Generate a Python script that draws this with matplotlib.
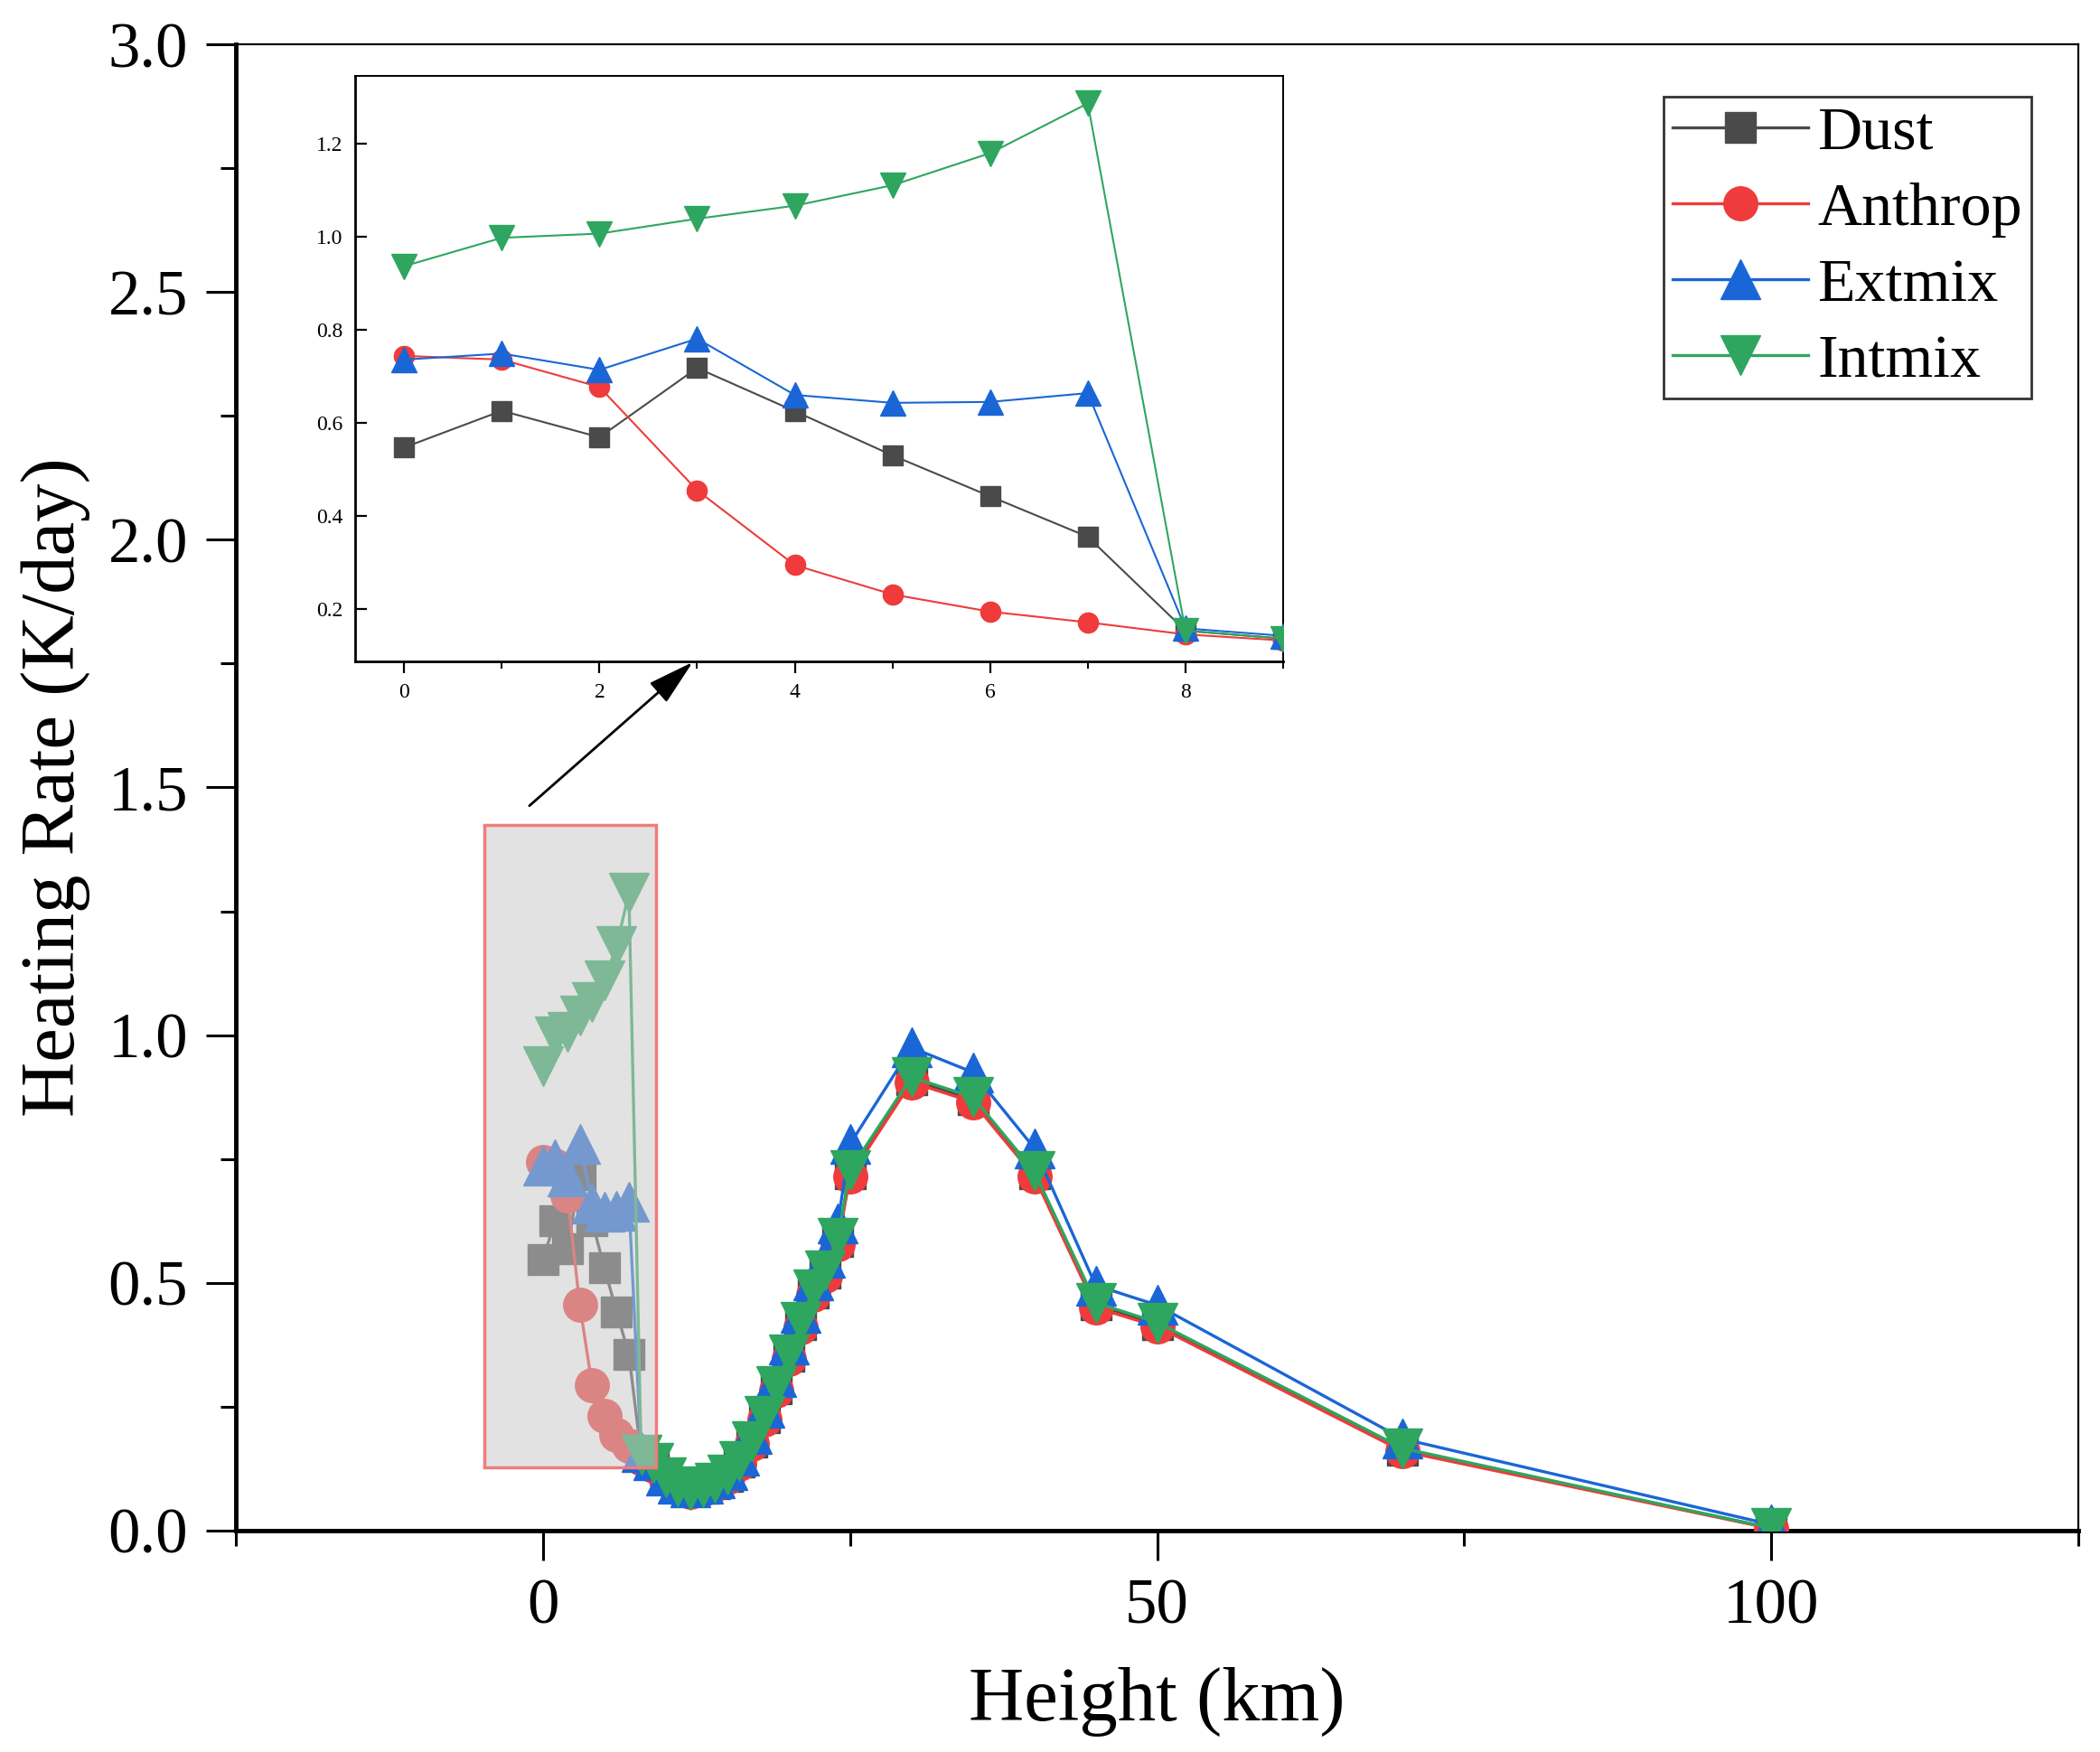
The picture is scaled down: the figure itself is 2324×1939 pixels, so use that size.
import matplotlib
matplotlib.use("Agg")
import matplotlib.pyplot as plt
from matplotlib.patches import Rectangle
from matplotlib.ticker import MultipleLocator

# ---------------- data ----------------
heights = [0, 1, 2, 3, 4, 5, 6, 7, 8, 9, 10, 11, 12, 13, 14, 15, 16, 17, 18,
           19, 20, 21, 22, 23, 24, 25, 30, 35, 40, 45, 50, 70, 100]

dust = [0.547, 0.626, 0.569, 0.718, 0.625, 0.530, 0.442, 0.355, 0.153, 0.136,
        0.105, 0.088, 0.080, 0.085, 0.095, 0.110, 0.138, 0.178, 0.228, 0.287,
        0.351, 0.415, 0.480, 0.520, 0.584, 0.720, 0.910, 0.870, 0.720, 0.455,
        0.416, 0.162, 0.005]

anthrop = [0.744, 0.736, 0.677, 0.455, 0.294, 0.231, 0.194, 0.171, 0.145, 0.132,
           0.103, 0.086, 0.078, 0.083, 0.093, 0.108, 0.135, 0.175, 0.224, 0.283,
           0.347, 0.410, 0.475, 0.515, 0.578, 0.715, 0.905, 0.865, 0.715, 0.450,
           0.412, 0.160, 0.004]

extmix = [0.736, 0.749, 0.714, 0.781, 0.660, 0.643, 0.645, 0.664, 0.158, 0.142,
          0.112, 0.095, 0.088, 0.094, 0.105, 0.122, 0.152, 0.195, 0.248, 0.310,
          0.375, 0.440, 0.505, 0.550, 0.620, 0.780, 0.975, 0.925, 0.772, 0.495,
          0.455, 0.185, 0.012]

intmix = [0.937, 0.998, 1.007, 1.039, 1.067, 1.111, 1.180, 1.287, 0.153, 0.136,
          0.108, 0.090, 0.082, 0.087, 0.097, 0.113, 0.141, 0.181, 0.231, 0.291,
          0.356, 0.421, 0.486, 0.526, 0.590, 0.728, 0.915, 0.875, 0.725, 0.460,
          0.420, 0.166, 0.005]

labels = ["Dust", "Anthrop", "Extmix", "Intmix"]
colors = ["#4a4a4a", "#ef3b3b", "#1a66d6", "#2ea65f"]
markers = ["s", "o", "^", "v"]
msizes_main = [25, 27, 31, 31]
msizes_inset = [16, 16, 20, 20]
series = [dust, anthrop, extmix, intmix]

inset_yticks = [0.2, 0.4, 0.6, 0.8, 1.0, 1.2]
inset_xticks = [0, 2, 4, 6, 8]

# ---------------- style ----------------
plt.rcParams['font.family'] = ['Liberation Serif', 'DejaVu Serif']
plt.rcParams['mathtext.fontset'] = 'stix'

fig = plt.figure(figsize=(23.24, 19.39), dpi=100)
ax = fig.add_axes([0.1123, 0.1264, 0.9897 - 0.1123, 0.9747 - 0.1264])

for y, lab, c, m, ms in zip(series, labels, colors, markers, msizes_main):
    ax.plot(heights, y, color=c, lw=2.4, marker=m, ms=ms, mec=c, mfc=c,
            label=lab, zorder=3)

ax.set_xlim(-25, 125)
ax.set_ylim(0, 3.0)
ax.xaxis.set_major_locator(MultipleLocator(50))
ax.xaxis.set_minor_locator(MultipleLocator(25))
ax.yaxis.set_major_locator(MultipleLocator(0.5))
ax.yaxis.set_minor_locator(MultipleLocator(0.25))
ax.yaxis.set_major_formatter(matplotlib.ticker.FormatStrFormatter('%.1f'))
ax.tick_params(which='major', direction='out', length=24, width=2.2,
               labelsize=51)
ax.tick_params(axis='y', which='major', pad=14)
ax.tick_params(axis='x', which='major', pad=14)
ax.tick_params(which='minor', direction='out', length=12, width=2.2)
for side, lw in [('left', 3.5), ('bottom', 3.5), ('top', 1.6), ('right', 1.6)]:
    ax.spines[side].set_linewidth(lw)

ax.set_xlabel("Height (km)", fontsize=61, labelpad=24)
ax.set_ylabel("Heating Rate (K/day)", fontsize=61, labelpad=14)

# shaded highlight box
rect = Rectangle((-4.8, 0.127), 14.0, 1.298,
                 facecolor=(0.79, 0.79, 0.79, 0.52),
                 edgecolor='#f07b7b', lw=2.5, zorder=5)
ax.add_patch(rect)

# arrow to inset
ax.annotate('', xy=(12.2, 1.753), xytext=(-1.1, 1.463),
            arrowprops=dict(arrowstyle='-|>,head_length=0.8,head_width=0.22',
                            mutation_scale=40, lw=2.0, color='black',
                            shrinkA=0, shrinkB=0),
            zorder=6)

leg = ax.legend(loc='upper right', bbox_to_anchor=(0.9745, 0.9647),
                borderaxespad=0, fontsize=49, frameon=True, fancybox=False,
                edgecolor='black', handlelength=2.2, handletextpad=0.15,
                labelspacing=0.33, borderpad=0.15, markerscale=1.0)
leg.get_frame().set_linewidth(2.0)

# ---------------- inset ----------------
axi = fig.add_axes([0.1692, 0.6225, 0.611 - 0.1692, 0.9569 - 0.6225])
for y, lab, c, m, ms in zip(series, labels, colors, markers, msizes_inset):
    axi.plot(heights, y, color=c, lw=1.5, marker=m, ms=ms, mec=c, mfc=c,
             zorder=3)
axi.set_xlim(-0.5, 9)
axi.set_ylim(0.087, 1.347)
axi.set_xticks(inset_xticks)
axi.xaxis.set_minor_locator(MultipleLocator(1))
axi.set_yticks(inset_yticks)
axi.yaxis.set_major_formatter(matplotlib.ticker.FormatStrFormatter('%.1f'))
axi.tick_params(axis='x', which='major', direction='out', length=9, width=1.6,
                labelsize=17, pad=8)
axi.tick_params(axis='x', which='minor', direction='out', length=6, width=1.4)
axi.tick_params(axis='y', which='major', direction='in', length=9, width=1.6,
                labelsize=17, pad=10)
for side, lw in [('left', 2.0), ('bottom', 2.0), ('top', 1.4), ('right', 1.4)]:
    axi.spines[side].set_linewidth(lw)

fig.savefig("out.png", dpi=100)
